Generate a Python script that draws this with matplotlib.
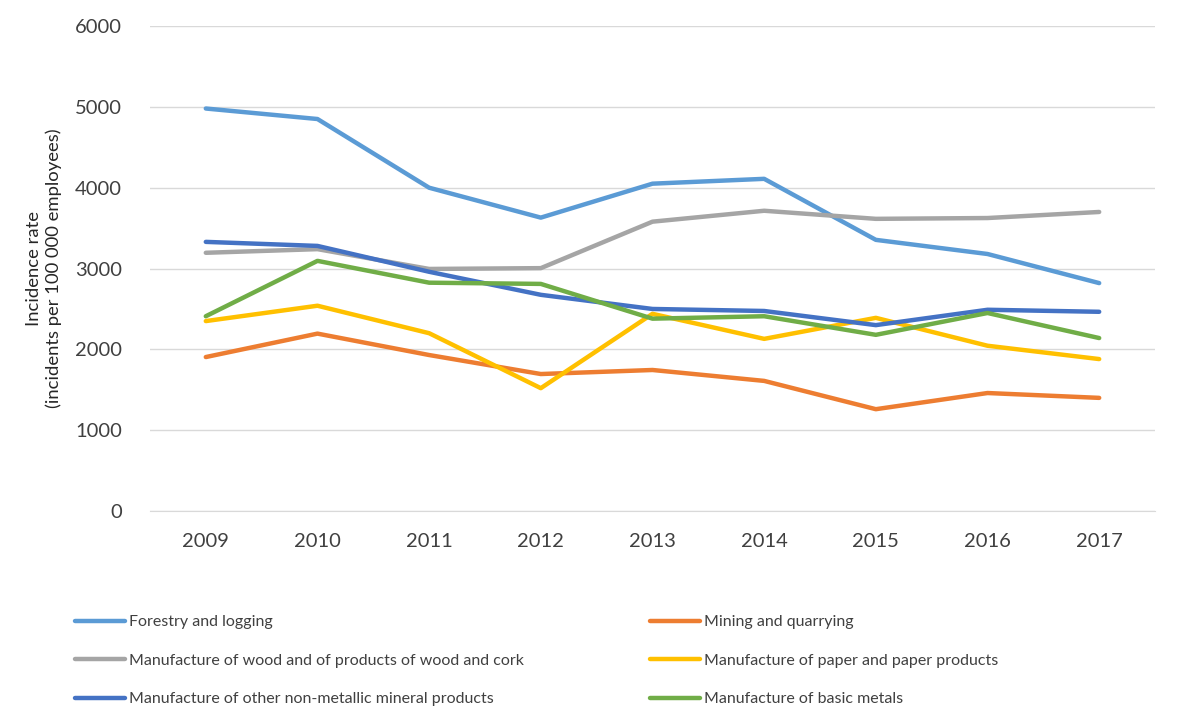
import matplotlib
matplotlib.use('Agg')
import matplotlib.pyplot as plt

plt.rcParams['font.family'] = ['Lato', 'DejaVu Sans']

years = ['2009', '2010', '2011', '2012', '2013', '2014', '2015', '2016', '2017']

forestry = [4980, 4850, 4000, 3630, 4050, 4110, 3355, 3180, 2820]
mining = [1905, 2195, 1930, 1695, 1745, 1610, 1260, 1460, 1400]
wood = [3195, 3240, 2995, 3005, 3580, 3715, 3615, 3625, 3700]
paper = [2350, 2540, 2200, 1520, 2440, 2130, 2390, 2045, 1880]
mineral = [3330, 3280, 2960, 2675, 2500, 2475, 2300, 2490, 2465]
metals = [2410, 3095, 2825, 2810, 2380, 2410, 2180, 2450, 2140]

series = [
    ('Forestry and logging', forestry, '#5B9BD5'),
    ('Mining and quarrying', mining, '#ED7D31'),
    ('Manufacture of wood and of products of wood and cork', wood, '#A5A5A5'),
    ('Manufacture of paper and paper products', paper, '#FFC000'),
    ('Manufacture of other non-metallic mineral products', mineral, '#4472C4'),
    ('Manufacture of basic metals', metals, '#70AD47'),
]

fig = plt.figure(figsize=(11.78, 7.22), dpi=100)
ax = fig.add_axes([0.1273, 0.2922, 0.8532, 0.6717])

x = range(len(years))
lines = {}
for name, vals, col in series:
    lines[name], = ax.plot(x, vals, color=col, linewidth=3.2, label=name, solid_capstyle='round')

ax.set_xlim(-0.5, len(years) - 0.5)
ax.set_ylim(0, 6000)
ax.set_yticks(range(0, 6001, 1000))
ax.set_xticks(list(x))
ax.set_xticklabels(years)
ax.grid(axis='y', color='#d9d9d9', linewidth=1)
ax.set_axisbelow(True)
for s in ['top', 'right', 'left']:
    ax.spines[s].set_visible(False)
ax.spines['bottom'].set_color('#d9d9d9')
ax.tick_params(axis='both', length=0, labelsize=14.5, colors='#404040')
ax.tick_params(axis='y', pad=20)
ax.tick_params(axis='x', pad=16)

ax.set_ylabel('Incidence rate\n(incidents per 100 000 employees)', fontsize=13.3, color='#262626')
ax.yaxis.set_label_coords(-0.088, 0.5)

names = [s[0] for s in series]
left_names = [names[0], names[2], names[4]]
right_names = [names[1], names[3], names[5]]
for group, xpos in [(left_names, 75 / 1178), (right_names, 650 / 1178)]:
    leg = fig.legend([lines[n] for n in group], group, loc='upper left',
                     bbox_to_anchor=(xpos, 1 - 615 / 722), frameon=False,
                     fontsize=11.5, handlelength=3.1, handletextpad=0.3,
                     labelspacing=1.52, borderpad=0, borderaxespad=0)
    for t in leg.get_texts():
        t.set_color('#404040')

fig.savefig('out.png', dpi=100)
